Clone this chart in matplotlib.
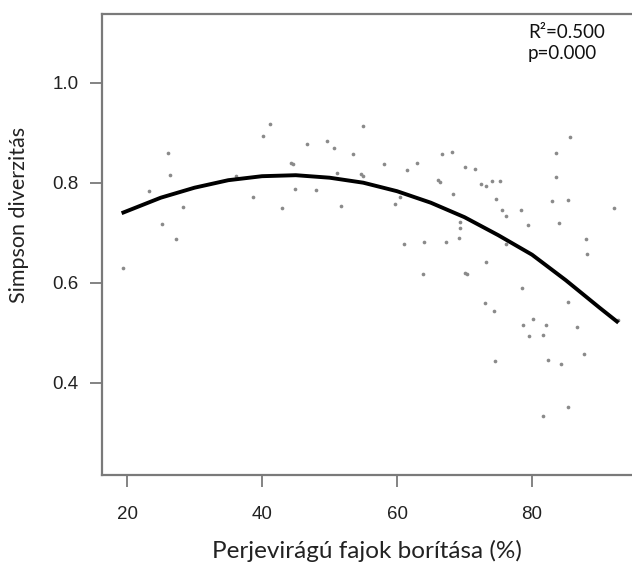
import matplotlib
matplotlib.use("Agg")
import matplotlib.pyplot as plt

# scatter data (cover %, Simpson diversity)
cover = [19.4, 23.2, 25.2, 26.1, 26.3, 27.2, 28.3, 36.1, 38.7, 40.1, 41.2, 42.9,
         44.3, 44.6, 44.9, 46.7, 48.0, 49.6, 50.6, 51.1, 51.7, 53.5, 54.6, 54.9,
         55.0, 58.0, 59.7, 60.4, 61.0, 61.5, 62.9, 63.9, 64.0, 66.1, 66.3, 66.7,
         67.2, 68.1, 68.3, 69.2, 69.4, 69.4, 70.1, 70.1, 70.4, 71.6, 72.5, 73.2,
         73.2, 74.1, 74.7, 75.2, 75.6, 76.1, 76.1, 78.3, 78.5, 79.4, 82.9, 83.5,
         83.6, 84.0, 85.4, 85.6, 88.0, 88.2, 92.2, 73.0, 74.3, 80.1, 85.3, 78.6,
         82.0, 86.6, 79.6, 81.6, 92.7, 87.7, 74.5, 82.4, 84.3, 85.3, 81.6]
simpson = [0.630, 0.783, 0.717, 0.859, 0.815, 0.687, 0.751, 0.814, 0.771, 0.893, 0.918, 0.749,
           0.840, 0.837, 0.788, 0.877, 0.785, 0.884, 0.869, 0.820, 0.753, 0.857, 0.817, 0.813,
           0.913, 0.837, 0.758, 0.771, 0.677, 0.825, 0.839, 0.618, 0.682, 0.805, 0.802, 0.857,
           0.682, 0.861, 0.777, 0.689, 0.721, 0.709, 0.832, 0.620, 0.618, 0.827, 0.797, 0.793,
           0.642, 0.803, 0.767, 0.803, 0.746, 0.733, 0.677, 0.746, 0.589, 0.716, 0.763, 0.812,
           0.859, 0.719, 0.765, 0.891, 0.687, 0.657, 0.749, 0.559, 0.544, 0.527, 0.561, 0.515,
           0.515, 0.512, 0.493, 0.495, 0.525, 0.458, 0.443, 0.445, 0.438, 0.352, 0.333]

# fitted curve
curve_x = [19.2, 25, 30, 35, 40, 45, 50, 55, 60, 65, 70, 75, 80, 85, 90, 92.8]
curve_y = [0.739, 0.770, 0.790, 0.805, 0.813, 0.815, 0.810, 0.800, 0.783, 0.760,
           0.731, 0.695, 0.656, 0.605, 0.550, 0.520]

xticks = [20, 40, 60, 80]
yticks = [0.4, 0.6, 0.8, 1.0]
ytick_labels = ["0.4", "0.6", "0.8", "1.0"]

W, H = 632, 567
fig = plt.figure(figsize=(W / 100, H / 100), dpi=100)
left_px, right_px, top_px, bot_px = 101.5, 632, 14, 475
ax = fig.add_axes([left_px / W, 1 - bot_px / H, (right_px - left_px) / W, (bot_px - top_px) / H])

ax.scatter(cover, simpson, s=7, marker="o", color="#8a8a8a", linewidths=0, zorder=2)
ax.plot(curve_x, curve_y, color="black", lw=2.8, solid_capstyle="butt",
        solid_joinstyle="round", zorder=3)

ax.set_xlim(16.22, 94.81)
ax.set_ylim(0.2154, 1.1374)

spine_c = "#7a7a7a"
for s in ["left", "bottom", "top"]:
    ax.spines[s].set_color(spine_c)
    ax.spines[s].set_linewidth(1.6)
ax.spines["right"].set_visible(False)

ax.set_xticks(xticks)
ax.set_xticklabels([str(t) for t in xticks])
ax.set_yticks(yticks)
ax.set_yticklabels(ytick_labels)
ax.tick_params(direction="out", length=8.5, width=1.3, color=spine_c,
               labelsize=13.5, labelcolor="#222222")
ax.tick_params(axis="x", pad=14)
ax.tick_params(axis="y", pad=8)
for lab in ax.get_xticklabels() + ax.get_yticklabels():
    lab.set_fontfamily("Liberation Sans")

fig.text(19 / W, 1 - 215 / H, "Simpson diverzitás", rotation=90, ha="center", va="center",
         fontsize=15.5, family="Lato", color="#222222")
fig.text(367 / W, 1 - 551 / H, "Perjevirágú fajok borítása (%)", ha="center", va="center",
         fontsize=17.5, family="Lato", color="#222222")
fig.text(528 / W, 1 - 24 / H, "R²=0.500\np=0.000", ha="left", va="top",
         fontsize=13.5, family="Lato", color="#111111", linespacing=1.3)

fig.savefig("out.png", dpi=100)
